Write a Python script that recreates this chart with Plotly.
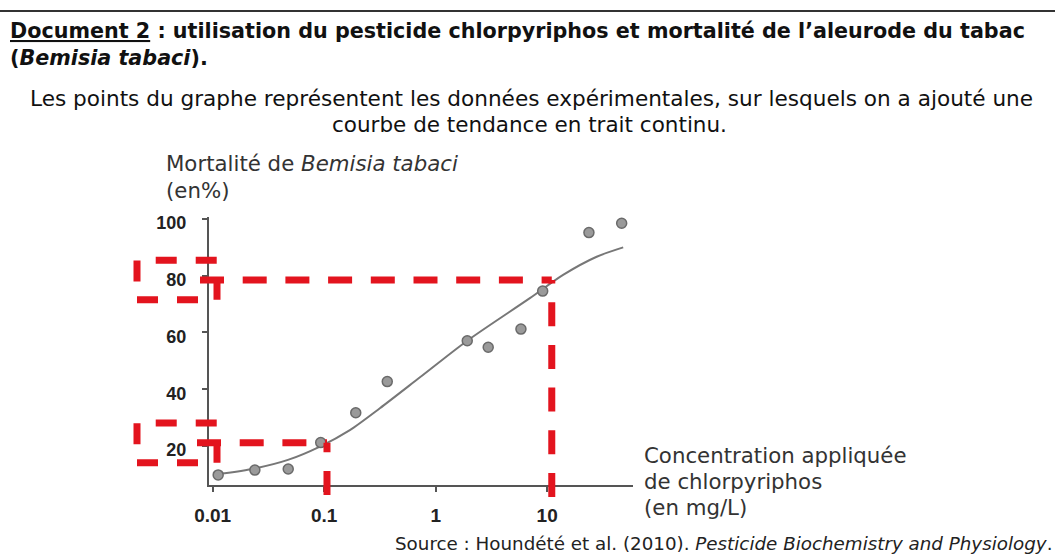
import math
import plotly.graph_objects as go

# ---------------- data ----------------
conc_points = [0.0112, 0.0239, 0.0476, 0.0931, 0.192, 0.368, 1.92, 2.96, 5.82, 9.12, 23.7, 46.6]
mort_points = [9.8, 11.5, 11.9, 21.2, 31.7, 42.7, 57.1, 54.8, 61.2, 74.6, 95.2, 98.5]

trend_conc = [0.0112, 0.0239, 0.0473, 0.0916, 0.17, 0.316, 0.723, 1.92, 7.0, 13.9, 27.8, 48.1]
trend_mort = [10.1, 12.1, 15.1, 19.8, 25.6, 33.3, 44.2, 57.1, 72.1, 80.3, 86.7, 90.0]

x_tick_vals = [0.01, 0.1, 1, 10]
x_tick_text = ["0.01", "0.1", "1", "10"]
y_tick_vals = [20, 40, 60, 80, 100]
y_tick_text = ["20", "40", "60", "80", "100"]

reading_conc = [0.106, 11.0]
reading_mort = [21.1, 78.5]

# ---------------- layout geometry ----------------
W, H = 1055, 555
PL, PR, PT, PB = 209, 633, 217, 485
XR = [-2.033, 1.770]
YR = [6.25, 100.7]


def px(x):
    return (x - PL) / (PR - PL)


def py(y):
    return (PB - y) / (PB - PT)


def xdom(v):
    return (math.log10(v) - XR[0]) / (XR[1] - XR[0])


def ydom(v):
    return (v - YR[0]) / (YR[1] - YR[0])


FONT = "Liberation Sans, Arial, sans-serif"
TFONT = "DejaVu Sans, Verdana, sans-serif"
RED = "#e3141e"
AXIS_COL = "#555555"

fig = go.Figure()

fig.add_trace(go.Scatter(
    x=trend_conc, y=trend_mort, mode="lines",
    line=dict(color="#777777", width=2, shape="spline", smoothing=0.8),
    hoverinfo="skip", showlegend=False,
))
fig.add_trace(go.Scatter(
    x=conc_points, y=mort_points, mode="markers",
    marker=dict(size=10, color="#9a9a9a", line=dict(color="#6a6a6a", width=1.5)),
    showlegend=False,
))

shapes = []
# top border
shapes.append(dict(type="line", xref="paper", yref="paper", x0=px(0), x1=px(W), y0=py(11), y1=py(11),
                   line=dict(color="#333333", width=2)))

LINE_DASH = "24px,18.7px"
BOX_DASH = "21px,19px"
LW = 7
h_starts = [197, 200]
v_bottoms = [495, 497]
for c, m, hs, vb in zip(reading_conc, reading_mort, h_starts, v_bottoms):
    # horizontal reading line (from the y axis to the curve)
    shapes.append(dict(type="line", xref="x domain", yref="y", x0=px(hs), x1=xdom(c), y0=m, y1=m,
                       line=dict(color=RED, width=LW, dash=LINE_DASH), layer="above"))
    # vertical reading line (from below the x axis up to the curve)
    shapes.append(dict(type="line", xref="x", yref="y domain", x0=c, x1=c, y0=py(vb), y1=ydom(m),
                       line=dict(color=RED, width=LW, dash=LINE_DASH), layer="above"))
    # box around the tick label
    shapes.append(dict(type="rect", xref="x domain", yref="y", x0=px(137), x1=px(217),
                       y0=m - 7, y1=m + 7,
                       line=dict(color=RED, width=LW, dash=BOX_DASH), layer="above"))

annotations = []


def txt(text, x, y, size, xanchor="left", color="#111111", bold=False, family=TFONT):
    if bold:
        text = "<b>" + text + "</b>"
    annotations.append(dict(text=text, xref="paper", yref="paper", x=px(x), y=py(y),
                            xanchor=xanchor, yanchor="middle", showarrow=False,
                            font=dict(family=family, size=size, color=color)))


txt("<u>Document 2</u> : utilisation du pesticide chlorpyriphos et mortalité de l’aleurode du tabac",
    8, 31, 20.7, bold=True)
txt("(<i>Bemisia tabaci</i>).", 8, 58, 20.7, bold=True)
txt("Les points du graphe représentent les données expérimentales, sur lesquels on a ajouté une",
    531, 98, 21.6, xanchor="center")
txt("courbe de tendance en trait continu.", 529, 125, 21.5, xanchor="center")

txt("Mortalité de <i>Bemisia tabaci</i>", 164, 163, 21.3, color="#333333")
txt("(en%)", 164, 190, 21.3, color="#333333")

txt("Concentration appliquée", 642, 455, 21.3, color="#333333")
txt("de chlorpyriphos", 642, 481, 21.3, color="#333333")
txt("(en mg/L)", 642, 507, 21.3, color="#333333")

txt("Source : Houndété et al. (2010). <i>Pesticide Biochemistry and Physiology</i>.",
    1054, 543, 18.3, xanchor="right", color="#222222")

fig.update_layout(
    width=W, height=H,
    margin=dict(l=PL, r=W - PR, t=PT, b=H - PB, pad=0),
    paper_bgcolor="white", plot_bgcolor="white",
    shapes=shapes, annotations=annotations,
    font=dict(family=FONT),
    showlegend=False,
)
fig.update_xaxes(
    type="log", range=XR, tickvals=x_tick_vals, ticktext=x_tick_text,
    showgrid=False, zeroline=False, showline=True, linecolor=AXIS_COL, linewidth=2,
    ticks="outside", ticklen=5, tickwidth=1.5, tickcolor=AXIS_COL,
    tickfont=dict(family=FONT, size=19, color="#222222", weight="bold"),
    ticklabelstandoff=7,
)
fig.update_yaxes(
    range=YR, tickvals=y_tick_vals, ticktext=y_tick_text,
    showgrid=False, zeroline=False, showline=True, linecolor=AXIS_COL, linewidth=2,
    ticks="outside", ticklen=5, tickwidth=1.5, tickcolor=AXIS_COL,
    tickfont=dict(family=FONT, size=18, color="#222222", weight="bold"),
    ticklabelstandoff=12, ticklabelshift=4,
)

fig.write_html("out.html", config={"displayModeBar": False},
               post_script="document.body.style.margin='0px';")
